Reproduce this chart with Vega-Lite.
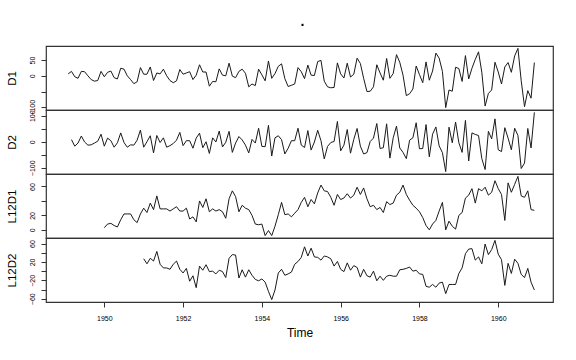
{
"$schema": "https://vega.github.io/schema/vega-lite/v6.json",
"background": "white",
"padding": {"left": 5, "top": 15, "right": 5, "bottom": 5},
"bounds": "flush",
"title": {"text": ".", "fontSize": 14, "fontWeight": "bold", "font": "Liberation Sans", "color": "black", "anchor": "middle", "offset": 16, "dx": 23},
"data": {"values": [
{"t":1949.083,"D1":6,"D2":null,"L12D1":null,"L12D2":null},
{"t":1949.167,"D1":14,"D2":8,"L12D1":null,"L12D2":null},
{"t":1949.25,"D1":-3,"D2":-17,"L12D1":null,"L12D2":null},
{"t":1949.333,"D1":-8,"D2":-5,"L12D1":null,"L12D2":null},
{"t":1949.417,"D1":14,"D2":22,"L12D1":null,"L12D2":null},
{"t":1949.5,"D1":13,"D2":-1,"L12D1":null,"L12D2":null},
{"t":1949.583,"D1":0,"D2":-13,"L12D1":null,"L12D2":null},
{"t":1949.667,"D1":-12,"D2":-12,"L12D1":null,"L12D2":null},
{"t":1949.75,"D1":-17,"D2":-5,"L12D1":null,"L12D2":null},
{"t":1949.833,"D1":-15,"D2":2,"L12D1":null,"L12D2":null},
{"t":1949.917,"D1":14,"D2":29,"L12D1":null,"L12D2":null},
{"t":1950.0,"D1":-3,"D2":-17,"L12D1":3,"L12D2":null},
{"t":1950.083,"D1":11,"D2":14,"L12D1":8,"L12D2":null},
{"t":1950.167,"D1":15,"D2":4,"L12D1":9,"L12D2":null},
{"t":1950.25,"D1":-6,"D2":-21,"L12D1":6,"L12D2":null},
{"t":1950.333,"D1":-10,"D2":-4,"L12D1":4,"L12D2":null},
{"t":1950.417,"D1":24,"D2":34,"L12D1":14,"L12D2":null},
{"t":1950.5,"D1":21,"D2":-3,"L12D1":22,"L12D2":null},
{"t":1950.583,"D1":0,"D2":-21,"L12D1":22,"L12D2":null},
{"t":1950.667,"D1":-12,"D2":-12,"L12D1":22,"L12D2":null},
{"t":1950.75,"D1":-25,"D2":-13,"L12D1":14,"L12D2":null},
{"t":1950.833,"D1":-19,"D2":6,"L12D1":10,"L12D2":null},
{"t":1950.917,"D1":26,"D2":45,"L12D1":22,"L12D2":null},
{"t":1951.0,"D1":5,"D2":-21,"L12D1":30,"L12D2":27},
{"t":1951.083,"D1":5,"D2":0,"L12D1":24,"L12D2":16},
{"t":1951.167,"D1":28,"D2":23,"L12D1":37,"L12D2":28},
{"t":1951.25,"D1":-15,"D2":-43,"L12D1":28,"L12D2":22},
{"t":1951.333,"D1":9,"D2":24,"L12D1":47,"L12D2":43},
{"t":1951.417,"D1":6,"D2":-3,"L12D1":29,"L12D2":15},
{"t":1951.5,"D1":21,"D2":15,"L12D1":29,"L12D2":7},
{"t":1951.583,"D1":0,"D2":-21,"L12D1":29,"L12D2":7},
{"t":1951.667,"D1":-15,"D2":-15,"L12D1":26,"L12D2":4},
{"t":1951.75,"D1":-22,"D2":-7,"L12D1":29,"L12D2":15},
{"t":1951.833,"D1":-16,"D2":6,"L12D1":32,"L12D2":22},
{"t":1951.917,"D1":20,"D2":36,"L12D1":26,"L12D2":4},
{"t":1952.0,"D1":5,"D2":-15,"L12D1":26,"L12D2":-4},
{"t":1952.083,"D1":9,"D2":4,"L12D1":30,"L12D2":6},
{"t":1952.167,"D1":13,"D2":4,"L12D1":15,"L12D2":-22},
{"t":1952.25,"D1":-12,"D2":-25,"L12D1":18,"L12D2":-10},
{"t":1952.333,"D1":2,"D2":14,"L12D1":11,"L12D2":-36},
{"t":1952.417,"D1":35,"D2":33,"L12D1":40,"L12D2":11},
{"t":1952.5,"D1":12,"D2":-23,"L12D1":31,"L12D2":2},
{"t":1952.583,"D1":12,"D2":0,"L12D1":43,"L12D2":14},
{"t":1952.667,"D1":-33,"D2":-45,"L12D1":25,"L12D2":-1},
{"t":1952.75,"D1":-18,"D2":15,"L12D1":29,"L12D2":0},
{"t":1952.833,"D1":-19,"D2":-1,"L12D1":26,"L12D2":-6},
{"t":1952.917,"D1":22,"D2":41,"L12D1":28,"L12D2":2},
{"t":1953.0,"D1":2,"D2":-20,"L12D1":25,"L12D2":-1},
{"t":1953.083,"D1":0,"D2":-2,"L12D1":16,"L12D2":-14},
{"t":1953.167,"D1":40,"D2":40,"L12D1":43,"L12D2":28},
{"t":1953.25,"D1":-1,"D2":-41,"L12D1":54,"L12D2":36},
{"t":1953.333,"D1":-6,"D2":-5,"L12D1":46,"L12D2":35},
{"t":1953.417,"D1":14,"D2":20,"L12D1":25,"L12D2":-15},
{"t":1953.5,"D1":21,"D2":7,"L12D1":34,"L12D2":3},
{"t":1953.583,"D1":8,"D2":-13,"L12D1":30,"L12D2":-13},
{"t":1953.667,"D1":-35,"D2":-43,"L12D1":28,"L12D2":3},
{"t":1953.75,"D1":-26,"D2":9,"L12D1":20,"L12D2":-9},
{"t":1953.833,"D1":-31,"D2":-5,"L12D1":8,"L12D2":-18},
{"t":1953.917,"D1":21,"D2":52,"L12D1":7,"L12D2":-21},
{"t":1954.0,"D1":3,"D2":-18,"L12D1":8,"L12D2":-17},
{"t":1954.083,"D1":-16,"D2":-19,"L12D1":-8,"L12D2":-24},
{"t":1954.167,"D1":47,"D2":63,"L12D1":-1,"L12D2":-44},
{"t":1954.25,"D1":-8,"D2":-55,"L12D1":-8,"L12D2":-62},
{"t":1954.333,"D1":7,"D2":15,"L12D1":5,"L12D2":-41},
{"t":1954.417,"D1":30,"D2":23,"L12D1":21,"L12D2":-4},
{"t":1954.5,"D1":38,"D2":8,"L12D1":38,"L12D2":4},
{"t":1954.583,"D1":-9,"D2":-47,"L12D1":21,"L12D2":-9},
{"t":1954.667,"D1":-34,"D2":-25,"L12D1":22,"L12D2":-6},
{"t":1954.75,"D1":-30,"D2":4,"L12D1":18,"L12D2":-2},
{"t":1954.833,"D1":-26,"D2":4,"L12D1":23,"L12D2":15},
{"t":1954.917,"D1":26,"D2":52,"L12D1":28,"L12D2":21},
{"t":1955.0,"D1":13,"D2":-13,"L12D1":38,"L12D2":30},
{"t":1955.083,"D1":-9,"D2":-22,"L12D1":45,"L12D2":53},
{"t":1955.167,"D1":34,"D2":43,"L12D1":32,"L12D2":33},
{"t":1955.25,"D1":2,"D2":-32,"L12D1":42,"L12D2":50},
{"t":1955.333,"D1":1,"D2":-1,"L12D1":36,"L12D2":31},
{"t":1955.417,"D1":45,"D2":44,"L12D1":51,"L12D2":30},
{"t":1955.5,"D1":49,"D2":4,"L12D1":62,"L12D2":24},
{"t":1955.583,"D1":-17,"D2":-66,"L12D1":54,"L12D2":33},
{"t":1955.667,"D1":-35,"D2":-18,"L12D1":53,"L12D2":31},
{"t":1955.75,"D1":-38,"D2":-3,"L12D1":45,"L12D2":27},
{"t":1955.833,"D1":-37,"D2":1,"L12D1":34,"L12D2":11},
{"t":1955.917,"D1":41,"D2":78,"L12D1":49,"L12D2":21},
{"t":1956.0,"D1":6,"D2":-35,"L12D1":42,"L12D2":4},
{"t":1956.083,"D1":-7,"D2":-13,"L12D1":44,"L12D2":-1},
{"t":1956.167,"D1":40,"D2":47,"L12D1":50,"L12D2":18},
{"t":1956.25,"D1":-4,"D2":-44,"L12D1":44,"L12D2":2},
{"t":1956.333,"D1":5,"D2":9,"L12D1":48,"L12D2":12},
{"t":1956.417,"D1":56,"D2":51,"L12D1":59,"L12D2":8},
{"t":1956.5,"D1":39,"D2":-17,"L12D1":49,"L12D2":-13},
{"t":1956.583,"D1":-8,"D2":-47,"L12D1":58,"L12D2":4},
{"t":1956.667,"D1":-50,"D2":-42,"L12D1":43,"L12D2":-10},
{"t":1956.75,"D1":-49,"D2":1,"L12D1":32,"L12D2":-13},
{"t":1956.833,"D1":-35,"D2":14,"L12D1":34,"L12D2":0},
{"t":1956.917,"D1":35,"D2":70,"L12D1":28,"L12D2":-21},
{"t":1957.0,"D1":9,"D2":-26,"L12D1":31,"L12D2":-11},
{"t":1957.083,"D1":-14,"D2":-23,"L12D1":24,"L12D2":-20},
{"t":1957.167,"D1":55,"D2":69,"L12D1":39,"L12D2":-11},
{"t":1957.25,"D1":-8,"D2":-63,"L12D1":35,"L12D2":-9},
{"t":1957.333,"D1":7,"D2":15,"L12D1":37,"L12D2":-11},
{"t":1957.417,"D1":67,"D2":60,"L12D1":48,"L12D2":-11},
{"t":1957.5,"D1":43,"D2":-24,"L12D1":52,"L12D2":3},
{"t":1957.583,"D1":2,"D2":-41,"L12D1":62,"L12D2":4},
{"t":1957.667,"D1":-63,"D2":-65,"L12D1":49,"L12D2":6},
{"t":1957.75,"D1":-57,"D2":6,"L12D1":41,"L12D2":9},
{"t":1957.833,"D1":-42,"D2":15,"L12D1":34,"L12D2":0},
{"t":1957.917,"D1":31,"D2":73,"L12D1":30,"L12D2":2},
{"t":1958.0,"D1":4,"D2":-27,"L12D1":25,"L12D2":-6},
{"t":1958.083,"D1":-22,"D2":-26,"L12D1":17,"L12D2":-7},
{"t":1958.167,"D1":44,"D2":66,"L12D1":6,"L12D2":-33},
{"t":1958.25,"D1":-14,"D2":-58,"L12D1":0,"L12D2":-35},
{"t":1958.333,"D1":15,"D2":29,"L12D1":8,"L12D2":-29},
{"t":1958.417,"D1":72,"D2":57,"L12D1":13,"L12D2":-35},
{"t":1958.5,"D1":56,"D2":-16,"L12D1":26,"L12D2":-26},
{"t":1958.583,"D1":14,"D2":-42,"L12D1":38,"L12D2":-24},
{"t":1958.667,"D1":-101,"D2":-115,"L12D1":0,"L12D2":-49},
{"t":1958.75,"D1":-45,"D2":56,"L12D1":12,"L12D2":-29},
{"t":1958.833,"D1":-49,"D2":-4,"L12D1":5,"L12D2":-29},
{"t":1958.917,"D1":27,"D2":76,"L12D1":1,"L12D2":-29},
{"t":1959.0,"D1":23,"D2":-4,"L12D1":20,"L12D2":-5},
{"t":1959.083,"D1":-18,"D2":-41,"L12D1":24,"L12D2":7},
{"t":1959.167,"D1":64,"D2":82,"L12D1":44,"L12D2":38},
{"t":1959.25,"D1":-10,"D2":-74,"L12D1":48,"L12D2":48},
{"t":1959.333,"D1":24,"D2":34,"L12D1":57,"L12D2":49},
{"t":1959.417,"D1":52,"D2":28,"L12D1":37,"L12D2":24},
{"t":1959.5,"D1":76,"D2":24,"L12D1":57,"L12D2":31},
{"t":1959.583,"D1":11,"D2":-65,"L12D1":54,"L12D2":16},
{"t":1959.667,"D1":-96,"D2":-107,"L12D1":59,"L12D2":59},
{"t":1959.75,"D1":-56,"D2":40,"L12D1":48,"L12D2":36},
{"t":1959.833,"D1":-45,"D2":11,"L12D1":52,"L12D2":47},
{"t":1959.917,"D1":43,"D2":88,"L12D1":68,"L12D2":67},
{"t":1960.0,"D1":12,"D2":-31,"L12D1":57,"L12D2":37},
{"t":1960.083,"D1":-26,"D2":-38,"L12D1":49,"L12D2":25},
{"t":1960.167,"D1":28,"D2":54,"L12D1":13,"L12D2":-31},
{"t":1960.25,"D1":42,"D2":14,"L12D1":65,"L12D2":17},
{"t":1960.333,"D1":11,"D2":-31,"L12D1":52,"L12D2":-5},
{"t":1960.417,"D1":63,"D2":52,"L12D1":63,"L12D2":26},
{"t":1960.5,"D1":87,"D2":24,"L12D1":74,"L12D2":17},
{"t":1960.583,"D1":-16,"D2":-103,"L12D1":47,"L12D2":-7},
{"t":1960.667,"D1":-98,"D2":-82,"L12D1":45,"L12D2":-14},
{"t":1960.75,"D1":-47,"D2":51,"L12D1":54,"L12D2":6},
{"t":1960.833,"D1":-71,"D2":-24,"L12D1":28,"L12D2":-24},
{"t":1960.917,"D1":42,"D2":113,"L12D1":27,"L12D2":-41}
]},
"spacing": 0,
"vconcat": [
{
"width": 507, "height": 64,
"transform": [{"filter": {"field": "D1", "valid": true}}],
"mark": {"type": "line", "color": "#1a1a1a", "strokeWidth": 1},
"encoding": {
"x": {"field": "t", "type": "quantitative", "scale": {"domain": [1948.52, 1961.39], "nice": false, "zero": false}, "axis": null},
"y": {"field": "D1", "type": "quantitative", "scale": {"domain": [-108.5, 94.5], "nice": false, "zero": false},
"axis": {"title": "D1", "values": [-100, -50, 0, 50], "labelExpr": "datum.value == -50 ? '' : datum.label"}}
}
},
{
"width": 507, "height": 64,
"transform": [{"filter": {"field": "D2", "valid": true}}],
"mark": {"type": "line", "color": "#1a1a1a", "strokeWidth": 1},
"encoding": {
"x": {"field": "t", "type": "quantitative", "scale": {"domain": [1948.52, 1961.39], "nice": false, "zero": false}, "axis": null},
"y": {"field": "D2", "type": "quantitative", "scale": {"domain": [-124.1, 122.1], "nice": false, "zero": false},
"axis": {"title": "D2", "values": [-100, -50, 0, 50, 100], "labelExpr": "(datum.value == -50 || datum.value == 50) ? '' : datum.label"}}
}
},
{
"width": 507, "height": 64,
"transform": [{"filter": {"field": "L12D1", "valid": true}}],
"mark": {"type": "line", "color": "#1a1a1a", "strokeWidth": 1},
"encoding": {
"x": {"field": "t", "type": "quantitative", "scale": {"domain": [1948.52, 1961.39], "nice": false, "zero": false}, "axis": null},
"y": {"field": "L12D1", "type": "quantitative", "scale": {"domain": [-11.3, 77.3], "nice": false, "zero": false},
"axis": {"title": "L12D1", "values": [0, 20, 40, 60], "labelExpr": "datum.value == 40 ? '' : datum.label"}}
}
},
{
"width": 507, "height": 64,
"transform": [{"filter": {"field": "L12D2", "valid": true}}],
"mark": {"type": "line", "color": "#1a1a1a", "strokeWidth": 1},
"encoding": {
"x": {"field": "t", "type": "quantitative", "scale": {"domain": [1948.52, 1961.39], "nice": false, "zero": false},
"axis": {"title": "Time", "values": [1950, 1952, 1954, 1956, 1958, 1960], "format": "d", "orient": "bottom", "labelAngle": 0, "labelPadding": 7, "titlePadding": 6, "titleFontSize": 12}},
"y": {"field": "L12D2", "type": "quantitative", "scale": {"domain": [-67.2, 72.2], "nice": false, "zero": false},
"axis": {"title": "L12D2", "values": [-60, -40, -20, 0, 20, 40, 60], "labelExpr": "(datum.value == -40 || datum.value == 0 || datum.value == 40) ? '' : datum.label"}}
}
}
],
"config": {
"font": "Liberation Sans",
"view": {"stroke": "#333333", "strokeWidth": 1.2},
"axis": {"grid": false, "domain": false, "tickColor": "#333333", "tickSize": 5, "labelColor": "black", "labelFontSize": 7, "labelFont": "Liberation Sans", "titleFont": "Liberation Sans", "titleFontWeight": "normal", "titleColor": "black", "labelOverlap": false, "labelFlush": false, "labelBound": false},
"axisLeft": {"labelAngle": -90, "labelAlign": "center", "labelBaseline": "bottom", "labelPadding": 6, "titleFontSize": 11.5, "titleAngle": -90, "titleX": -34, "titleY": 32, "titleAlign": "center", "titleBaseline": "middle"}
}
}
